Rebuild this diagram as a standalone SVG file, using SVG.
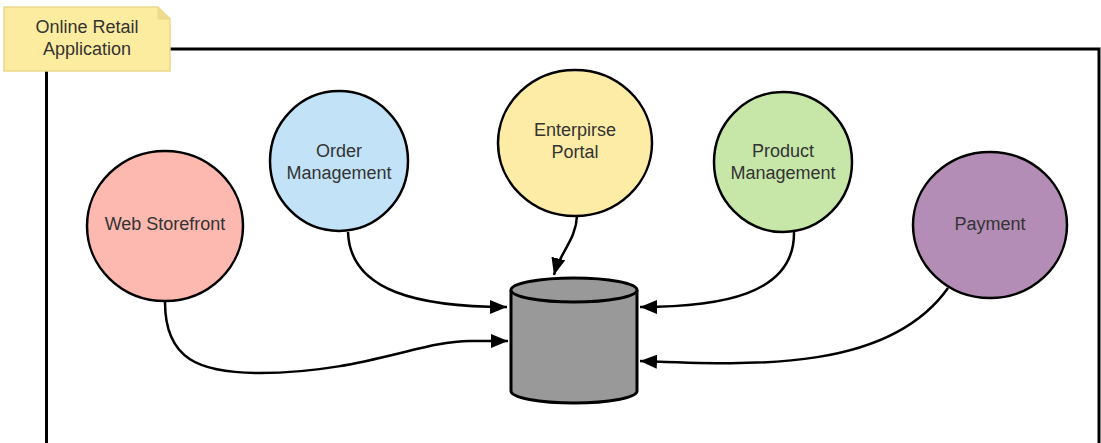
<svg xmlns="http://www.w3.org/2000/svg" width="1101" height="443" viewBox="0 0 1101 443">
<defs>
<style>
.node{stroke:#000;stroke-width:2.5}
.lbl{font-family:"Liberation Sans",Arial,sans-serif;font-size:18px;fill:#333;text-anchor:middle}
.conn{fill:none;stroke:#000;stroke-width:2.5}
.frame{fill:none;stroke:#000;stroke-width:3}
</style>
<marker id="arr" markerUnits="userSpaceOnUse" markerWidth="18" markerHeight="14" refX="17" refY="7" orient="auto">
<path d="M0,0 L17,7 L0,14 z" fill="#000"/>
</marker>
</defs>
<rect width="1101" height="443" fill="#fff"/>
<g id="frame">
<path class="frame" d="M46.5,71 L46.5,443 M170,49 L1099,49 L1099,443"/>
</g>
<g id="note">
<path d="M4,7 L158,7 L170,19 L170,71 L4,71 z" fill="#fcec9f" stroke="#e9d98c" stroke-width="1.5"/>
<path d="M158,7 L158,19 L170,19" fill="#efdc8a" stroke="#e9d98c" stroke-width="1"/>
<text class="lbl" x="87" y="33">Online Retail</text>
<text class="lbl" x="87" y="55">Application</text>
</g>
<g id="connectors">
<path class="conn" marker-end="url(#arr)" d="M165,302 C165,360 200,373 260,373 C360,373 420,341 470,341 L508,341"/>
<path class="conn" marker-end="url(#arr)" d="M348,232 C350,292 420,307 507,307"/>
<path class="conn" marker-end="url(#arr)" d="M577,216 C576,240 560,252 554,275"/>
<path class="conn" marker-end="url(#arr)" d="M794,232 C795,295 720,307 640,307"/>
<path class="conn" marker-end="url(#arr)" d="M948,288 C890,370 760,366 640,361"/>
</g>
<g id="web-storefront">
<ellipse class="node" cx="165" cy="226" rx="78" ry="75" fill="#fdb9b0"/>
<text class="lbl" x="165" y="230">Web Storefront</text>
</g>
<g id="order-management">
<ellipse class="node" cx="339" cy="161" rx="69" ry="70" fill="#c2e3f7"/>
<text class="lbl" x="339" y="157">Order</text>
<text class="lbl" x="339" y="179">Management</text>
</g>
<g id="enterprise-portal">
<ellipse class="node" cx="575" cy="143" rx="77" ry="73" fill="#fdeca6"/>
<text class="lbl" x="575" y="136">Enterpirse</text>
<text class="lbl" x="575" y="158">Portal</text>
</g>
<g id="product-management">
<ellipse class="node" cx="783" cy="162" rx="69" ry="70" fill="#c7e7a9"/>
<text class="lbl" x="783" y="157">Product</text>
<text class="lbl" x="783" y="179">Management</text>
</g>
<g id="payment">
<ellipse class="node" cx="990" cy="225" rx="77" ry="73" fill="#b48db7"/>
<text class="lbl" x="990" y="230">Payment</text>
</g>
<g id="database">
<path d="M511,290 L511,391 A63,12 0 0 0 637,391 L637,290" fill="#999" stroke="#000" stroke-width="3"/>
<ellipse cx="574" cy="290" rx="63" ry="12" fill="#999" stroke="#000" stroke-width="3"/>
</g>
</svg>
